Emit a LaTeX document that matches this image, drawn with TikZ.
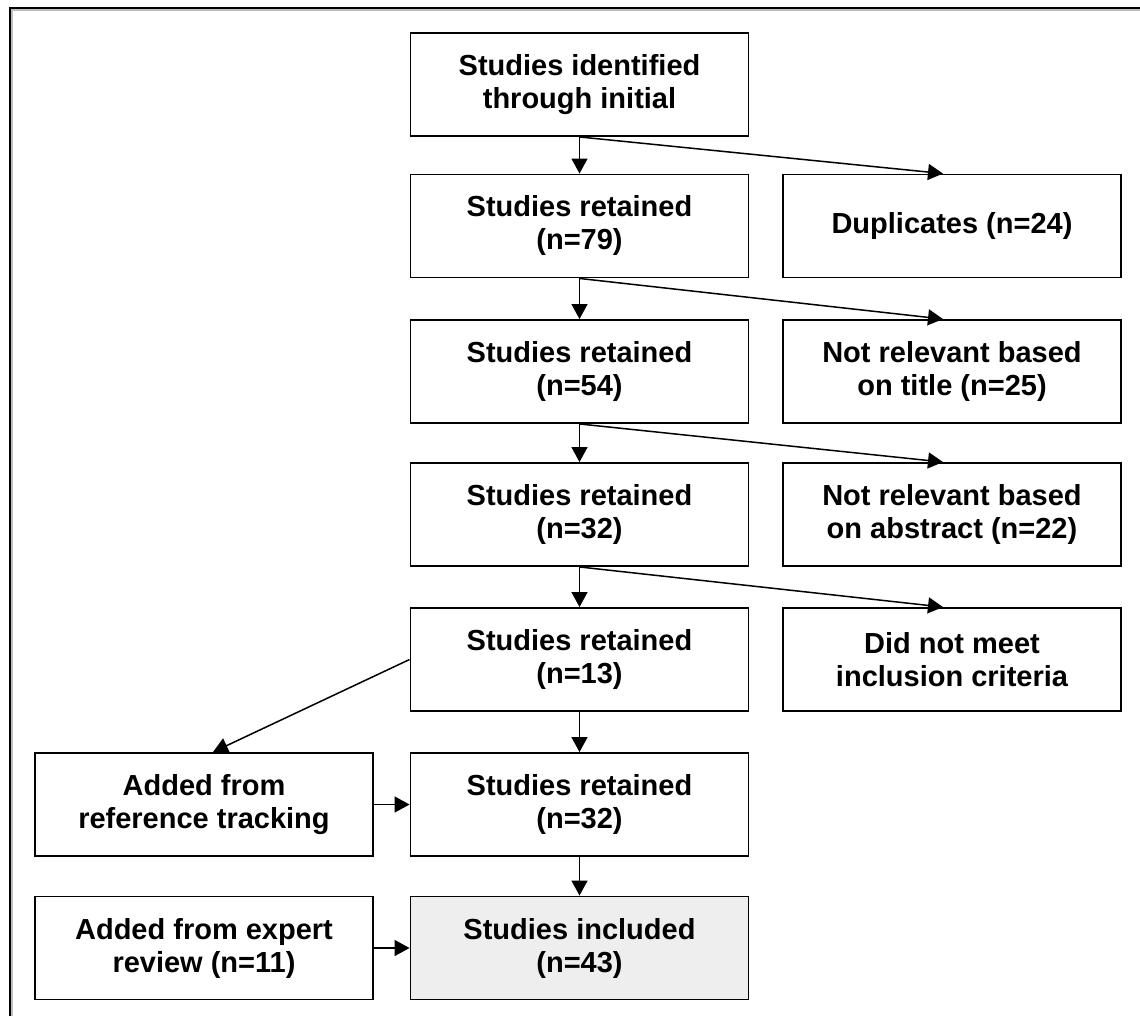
\documentclass[tikz,border=0pt]{standalone}
\usepackage{fontspec}
\setmainfont{Liberation Sans}
\usetikzlibrary{arrows.meta}
\tikzset{
  boxnode/.style={draw=black, line width=1.9pt, minimum width=338pt, minimum height=103pt,
    inner sep=0pt, align=center, font=\fontsize{29}{33}\selectfont\bfseries},
  conn/.style={line width=1.5pt, -{Triangle[length=15pt,width=16pt]}},
}
\begin{document}
\begin{tikzpicture}[x=1pt,y=-1pt]
\clip (0,0) rectangle (1140,1016);
\fill[white] (0,0) rectangle (1140,1016);
\draw[line width=3pt, black!25] (11.5,9.5) rectangle (1160,1040);
\draw[line width=2.2pt] (10,8) rectangle (1160,1040);
% middle column
\node[boxnode] (m1) at (579.5,84.5) {Studies identified\\through initial};
\node[boxnode] (m2) at (579.5,226) {Studies retained\\(n=79)};
\node[boxnode] (m3) at (579.5,371.5) {Studies retained\\(n=54)};
\node[boxnode] (m4) at (579.5,514.5) {Studies retained\\(n=32)};
\node[boxnode] (m5) at (579.5,659.5) {Studies retained\\(n=13)};
\node[boxnode] (m6) at (579.5,804.5) {Studies retained\\(n=32)};
\node[boxnode, fill={rgb,255:red,238;green,238;blue,238}] (m7) at (579.5,948) {Studies included\\(n=43)};
% right column
\node[boxnode] (r2) at (952,226) {Duplicates (n=24)};
\node[boxnode] (r3) at (952,371.5) {Not relevant based\\on title (n=25)};
\node[boxnode] (r4) at (952,514.5) {Not relevant based\\on abstract (n=22)};
\node[boxnode] (r5) at (952,659.5) {Did not meet\\inclusion criteria};
% left column
\node[boxnode] (l6) at (204,804.5) {Added from\\reference tracking};
\node[boxnode] (l7) at (204,948) {Added from expert\\review (n=11)};
% vertical arrows
\draw[conn] (m1.south) -- (m2.north);
\draw[conn] (m2.south) -- (m3.north);
\draw[conn] (m3.south) -- (m4.north);
\draw[conn] (m4.south) -- (m5.north);
\draw[conn] (m5.south) -- (m6.north);
\draw[conn] (m6.south) -- (m7.north);
% diagonal arrows to exclusions
\draw[conn] (m1.south) -- ([xshift=-9pt]r2.north);
\draw[conn] (m2.south) -- ([xshift=-9pt]r3.north);
\draw[conn] (m3.south) -- ([xshift=-9pt]r4.north);
\draw[conn] (m4.south) -- ([xshift=-9pt]r5.north);
% left additions
\draw[conn] (m5.west) -- ([xshift=9pt]l6.north);
\draw[conn] (l6.east) -- (m6.west);
\draw[conn] (l7.east) -- (m7.west);
\end{tikzpicture}
\end{document}
